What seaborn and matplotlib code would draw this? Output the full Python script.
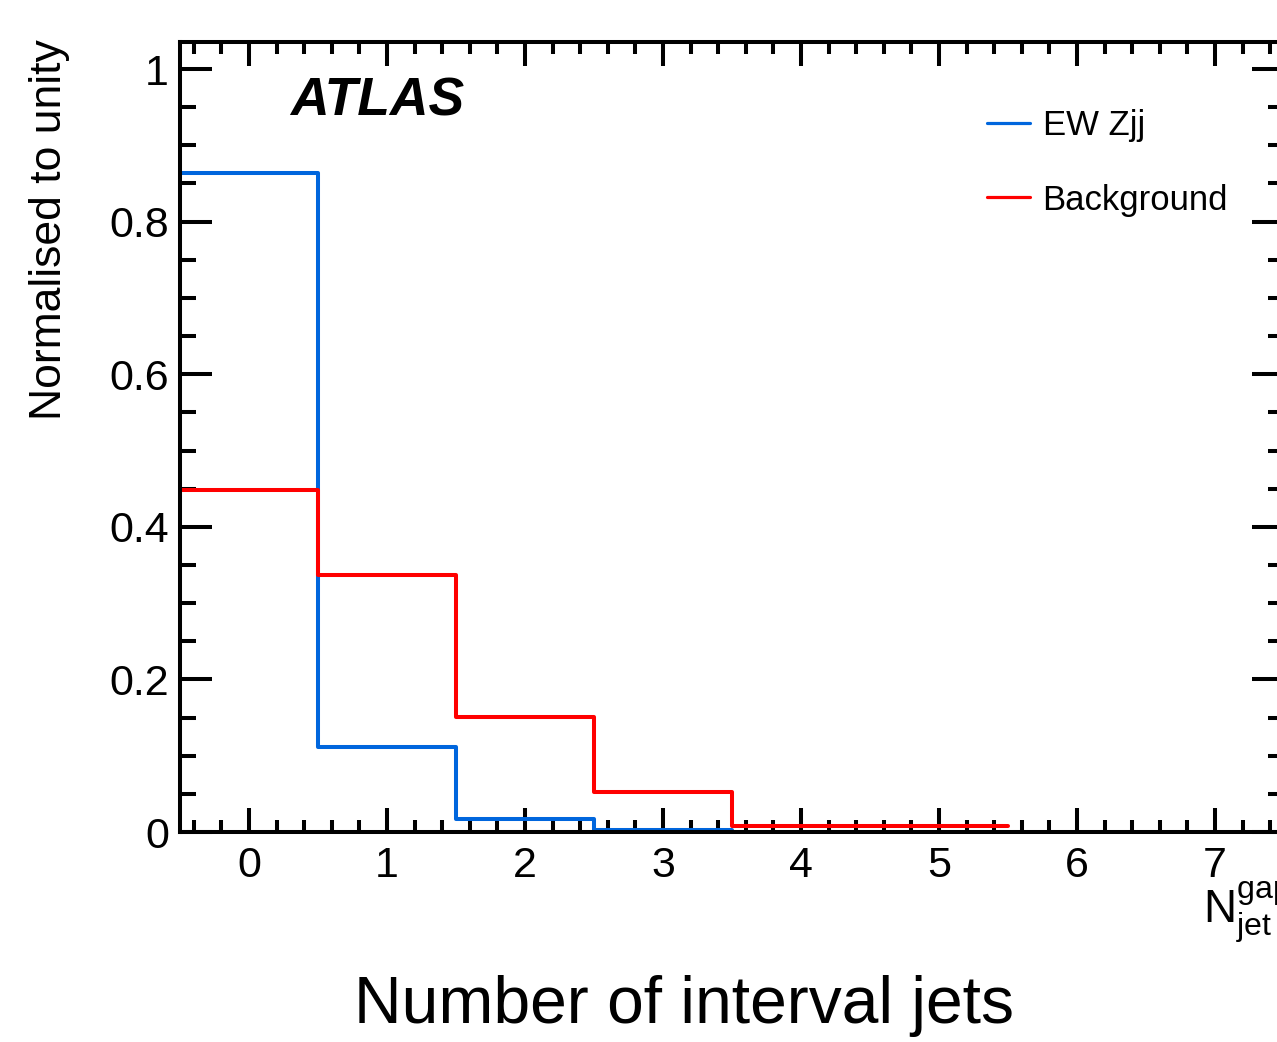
import numpy as np
import pandas as pd
import matplotlib
matplotlib.use("Agg")
import matplotlib.pyplot as plt
import seaborn as sns
from matplotlib.ticker import MultipleLocator

# ---- data ----
ew_bins = [0, 1, 2, 3]
ew_values = [0.864, 0.111, 0.017, 0.003]
bkg_bins = [0, 1, 2, 3, 4, 5]
bkg_values = [0.448, 0.337, 0.151, 0.052, 0.008, 0.008]
x_ticks = [0, 1, 2, 3, 4, 5, 6, 7]
y_ticks = [0, 0.2, 0.4, 0.6, 0.8, 1.0]
y_tick_labels = ["0", "0.2", "0.4", "0.6", "0.8", "1"]

sns.set_theme(style="white")
plt.rcParams["font.family"] = ["Liberation Sans", "DejaVu Sans"]
plt.rcParams["text.color"] = "black"
plt.rcParams["axes.labelcolor"] = "black"
plt.rcParams["mathtext.fontset"] = "custom"
plt.rcParams["mathtext.rm"] = "Liberation Sans"
plt.rcParams["mathtext.it"] = "Liberation Sans:italic"

fig = plt.figure(figsize=(12.77, 10.42), dpi=100)
ax = fig.add_axes([180 / 1277, 1 - 832 / 1042, (1284 - 180) / 1277, (832 - 42) / 1042])

df_ew = pd.DataFrame({"n": ew_bins, "w": ew_values})
df_bkg = pd.DataFrame({"n": bkg_bins, "w": bkg_values})

sns.histplot(data=df_ew, x="n", weights="w", discrete=True,
             element="step", fill=False, color="#0066dd", linewidth=2.9,
             label="EW Zjj", ax=ax)
sns.histplot(data=df_bkg, x="n", weights="w", discrete=True,
             element="step", fill=False, color="#ff0000", linewidth=2.9,
             label="Background", ax=ax)

ax.set_xlim(-0.5, 7.5)
ax.set_ylim(0, 1.0354)
ax.set_xticks(x_ticks)
ax.set_yticks(y_ticks)
ax.set_yticklabels(y_tick_labels)
ax.xaxis.set_minor_locator(MultipleLocator(0.2))
ax.yaxis.set_minor_locator(MultipleLocator(0.05))

for s in ax.spines.values():
    s.set_linewidth(2.9)
    s.set_color("black")

ax.tick_params(axis="both", which="both", direction="in", top=True, right=True,
               bottom=True, left=True,
               width=2.9, color="black", labelsize=31, labelcolor="black")
ax.tick_params(axis="y", which="major", length=23, pad=8)
ax.tick_params(axis="y", which="minor", length=11.5)
ax.tick_params(axis="x", which="major", length=17, pad=10)
ax.tick_params(axis="x", which="minor", length=8.5)

ax.set_xlabel("")
ax.set_ylabel("Normalised to unity", fontsize=32, color="black", loc="top")
ax.yaxis.set_label_coords(-110 / 1104, 1.004)

ax.text(0.1, 0.925, "ATLAS", transform=ax.transAxes, fontsize=38.5,
        fontweight="bold", fontstyle="italic", va="center", ha="left")

leg = ax.legend(loc="upper left", bbox_to_anchor=(0.731, 0.9153), frameon=False,
                fontsize=25, handlelength=1.25, handletextpad=0.35,
                labelspacing=1.2, borderaxespad=0, borderpad=0)
for ln in leg.get_lines():
    ln.set_linewidth(2.3)

fig.text(1203 / 1277, 1 - 912 / 1042, r"N$_{\rm jet}^{\rm gap}$", fontsize=33,
         ha="left", va="center")
fig.text(684 / 1277, 1 - 1006 / 1042, "Number of interval jets", fontsize=47.5,
         ha="center", va="center")

fig.savefig("out.png", dpi=100)
